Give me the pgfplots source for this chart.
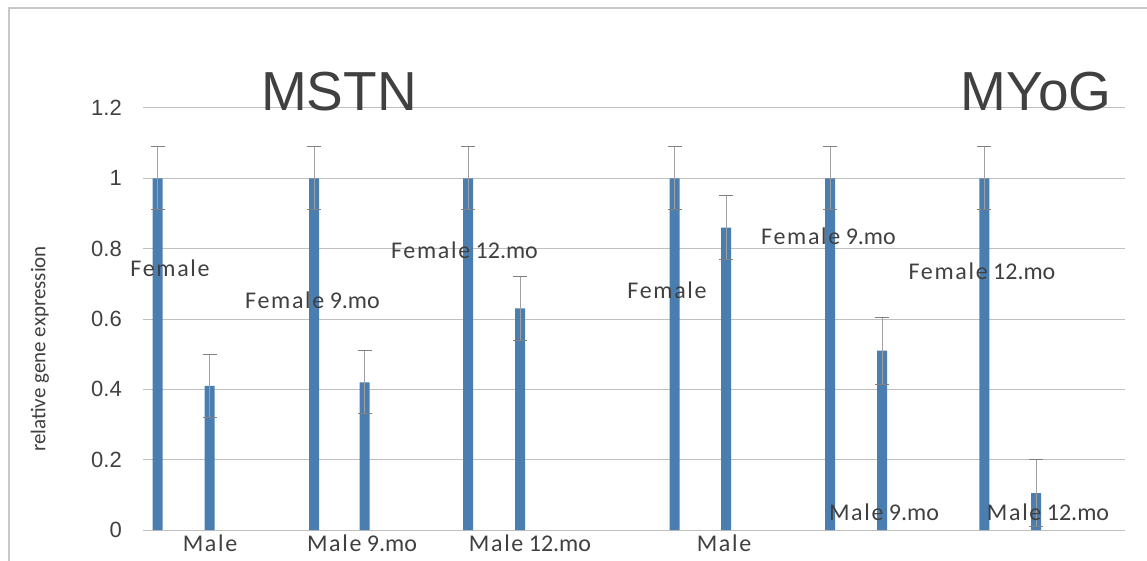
\documentclass[border=0pt]{standalone}
\usepackage{pgfplots}
\pgfplotsset{compat=1.18}
\usepackage{pgfplotstable}
\usepackage{fontspec}
\setmainfont{Carlito}
\newfontfamily\arial{Liberation Sans}
\newfontfamily\spaced[LetterSpace=7]{Carlito}
\newcommand{\ls}[1]{{\spaced #1}}
\definecolor{barc}{RGB}{74,126,177}
\definecolor{txt}{RGB}{64,64,64}
\definecolor{gridc}{RGB}{191,191,191}
\definecolor{errc}{RGB}{160,160,160}
\definecolor{errm}{RGB}{128,128,128}
\definecolor{borderc}{RGB}{200,200,200}
\pgfplotstableread{
x y e
157.7 1 0.09
209.7 0.41 0.09
314 1 0.09
364.5 0.42 0.09
468 1 0.09
520 0.63 0.09
674.5 1 0.09
726 0.86 0.09
830 1 0.09
882 0.51 0.095
984.4 1 0.09
1036 0.105 0.095
}\bars
\begin{document}
\begin{tikzpicture}[x=1pt,y=1pt]
\useasboundingbox (0,0) rectangle (1147,560);
\draw[color=borderc, line width=1.3pt] (9,-2) -- (9,552) -- (1150,552);
\node[rotate=90, text=txt, font=\fontsize{21}{21}\selectfont] at (40,211) {relative gene expression};
\begin{axis}[
  at={(143pt,30pt)}, anchor=south west,
  scale only axis, width=982pt, height=422pt,
  xmin=143, xmax=1125, ymin=0, ymax=1.2,
  clip=false,
  axis line style={draw=none},
  xtick=\empty,
  ytick={0,0.2,0.4,0.6,0.8,1,1.2},
  yticklabels={0,0.2,0.4,0.6,0.8,1,1.2},
  major tick length=0pt,
  ymajorgrids,
  major grid style={color=gridc, line width=1pt},
  yticklabel style={font=\arial\fontsize{22}{22}\selectfont, text=txt, anchor=east, inner sep=0pt, xshift=-21pt},
]
\addplot[ybar, bar width=10pt, fill=barc, draw=none,
  error bars/.cd, y dir=both, y explicit,
  error bar style={color=errc, line width=1pt},
  error mark options={rotate=90, mark size=7pt, color=errm, line width=1pt}]
  table[x=x, y=y, y error=e] {\bars};
\begin{scope}[every node/.style={text=txt, font=\fontsize{24}{24}\selectfont, inner sep=0pt}]
\node at (axis cs:170,0.745) {\ls{Female}};
\node at (axis cs:210,-0.037) {\ls{Male}};
\node at (axis cs:312.5,0.654) {\ls{Female} 9.mo};
\node at (axis cs:362,-0.037) {\ls{Male} 9.mo};
\node at (axis cs:464.5,0.796) {\ls{Female} 12.mo};
\node at (axis cs:530,-0.037) {\ls{Male} 12.mo};
\node at (axis cs:667,0.682) {\ls{Female}};
\node at (axis cs:724,-0.037) {\ls{Male}};
\node at (axis cs:828.5,0.836) {\ls{Female} 9.mo};
\node at (axis cs:884,0.051) {\ls{Male} 9.mo};
\node at (axis cs:982,0.736) {\ls{Female} 12.mo};
\node at (axis cs:1048,0.051) {\ls{Male} 12.mo};
\end{scope}
\node[anchor=base, text=txt, font=\arial\fontsize{55}{55}\selectfont, inner sep=0pt] at (axis cs:339,1.193) {MSTN};
\node[anchor=base, text=txt, font=\arial\fontsize{55}{55}\selectfont, inner sep=0pt] at (axis cs:1036,1.193) {MYoG};
\end{axis}
\end{tikzpicture}
\end{document}
